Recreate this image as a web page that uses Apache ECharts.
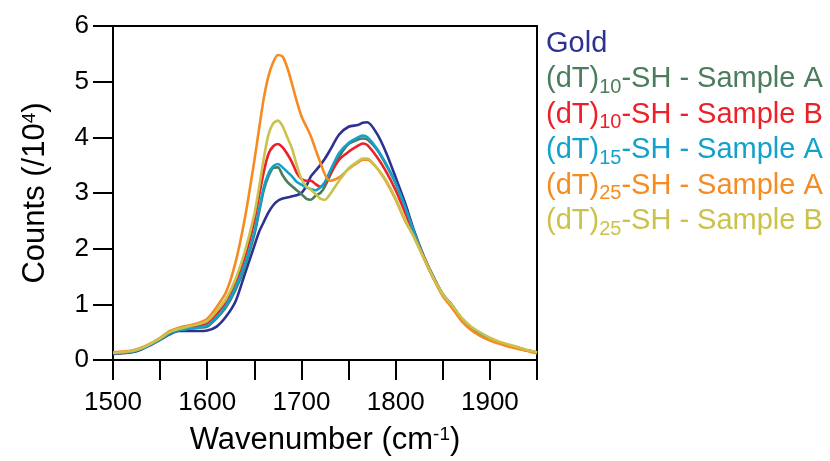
<!DOCTYPE html>
<html>
<head>
<meta charset="utf-8">
<script src="https://cdn.jsdelivr.net/npm/echarts@6/dist/echarts.min.js"></script>
<style>
  html, body { margin: 0; padding: 0; background: #fff; }
  #chart { width: 830px; height: 461px; }
</style>
</head>
<body>
<div id="chart"></div>
<script>
// Wavenumber sampling (cm^-1) shared by all spectra
const wavenumbers = [1500,1510,1520,1530,1540,1550,1560,1570,1580,1590,
  1600,1610,1620,1630,1640,1650,1655,1660,1665,1670,1675,1680,1685,1690,1695,
  1700,1705,1710,1715,1720,1725,1730,1740,1750,1760,1765,1770,1780,1790,
  1800,1810,1820,1830,1840,1850,1860,1870,1880,1890,1900,1910,1920,1930,1940,1950];

// Counts (/10^4)
const gold = [0.11,0.12,0.14,0.19,0.27,0.36,0.46,0.52,0.52,0.52,
  0.53,0.60,0.78,1.05,1.55,2.05,2.30,2.48,2.65,2.78,2.86,2.90,2.92,2.94,2.96,
  3.00,3.12,3.30,3.40,3.50,3.62,3.76,4.05,4.19,4.22,4.26,4.27,4.07,3.72,
  3.28,2.82,2.30,1.86,1.50,1.18,0.98,0.74,0.58,0.47,0.38,0.31,0.26,0.22,0.17,0.13];
const dT10A = [0.12,0.13,0.15,0.20,0.28,0.37,0.48,0.54,0.56,0.58,
  0.60,0.75,0.95,1.26,1.68,2.25,2.65,3.05,3.30,3.45,3.46,3.32,3.20,3.12,3.05,
  2.98,2.90,2.88,2.95,3.00,3.12,3.30,3.65,3.88,3.96,3.98,3.96,3.78,3.50,
  3.17,2.75,2.27,1.84,1.48,1.17,0.97,0.74,0.58,0.47,0.38,0.31,0.26,0.22,0.17,0.13];
const dT10B = [0.12,0.13,0.16,0.21,0.29,0.38,0.49,0.55,0.58,0.61,
  0.66,0.82,1.04,1.38,1.85,2.50,2.95,3.38,3.70,3.84,3.88,3.82,3.70,3.55,3.36,
  3.25,3.22,3.22,3.16,3.11,3.18,3.33,3.60,3.74,3.85,3.89,3.86,3.65,3.38,
  3.05,2.65,2.24,1.83,1.48,1.17,0.97,0.74,0.58,0.47,0.38,0.31,0.26,0.22,0.17,0.13];
const dT15A = [0.12,0.13,0.15,0.20,0.28,0.37,0.48,0.54,0.56,0.58,
  0.62,0.77,0.98,1.30,1.72,2.30,2.70,3.10,3.35,3.48,3.52,3.46,3.38,3.30,3.20,
  3.15,3.10,3.07,3.05,3.10,3.20,3.38,3.72,3.90,4.00,4.03,4.00,3.80,3.52,
  3.18,2.75,2.27,1.84,1.48,1.17,0.97,0.74,0.58,0.47,0.38,0.31,0.26,0.22,0.17,0.13];
const dT25A = [0.14,0.15,0.17,0.22,0.30,0.40,0.52,0.58,0.62,0.66,
  0.74,0.95,1.22,1.75,2.55,3.58,4.15,4.70,5.10,5.35,5.48,5.45,5.25,4.96,4.65,
  4.38,4.20,4.02,3.78,3.55,3.33,3.22,3.28,3.43,3.55,3.60,3.60,3.45,3.20,
  2.88,2.50,2.20,1.84,1.47,1.15,0.93,0.70,0.54,0.43,0.35,0.29,0.24,0.20,0.16,0.12];
const dT25B = [0.13,0.14,0.16,0.21,0.29,0.39,0.50,0.56,0.60,0.64,
  0.70,0.88,1.10,1.45,1.95,2.62,3.10,3.62,4.05,4.25,4.30,4.20,4.00,3.80,3.50,
  3.25,3.12,3.06,2.98,2.90,2.88,2.97,3.22,3.44,3.57,3.62,3.62,3.45,3.22,
  2.90,2.52,2.18,1.82,1.48,1.18,0.98,0.76,0.60,0.49,0.40,0.33,0.28,0.23,0.18,0.14];

const seriesNames = ['Gold', '(dT)10-SH - Sample A', '(dT)10-SH - Sample B',
  '(dT)15-SH - Sample A', '(dT)25-SH - Sample A', '(dT)25-SH - Sample B'];
const legendLabels = ['Gold', '(dT){sub|10}-SH - Sample A', '(dT){sub|10}-SH - Sample B',
  '(dT){sub|15}-SH - Sample A', '(dT){sub|25}-SH - Sample A', '(dT){sub|25}-SH - Sample B'];
const seriesValues = [gold, dT10A, dT10B, dT15A, dT25A, dT25B];
const colors = ['#2c3192', '#4b7c5b', '#ec2029', '#12a2c9', '#f68b22', '#cbc24c'];

const xTicks = { min: 1500, max: 1950, step: 50, labelStep: 100 };
const yTicks = { min: 0, max: 6, step: 1 };

const font = 'Liberation Sans, Arial, Helvetica, sans-serif';
const chart = echarts.init(document.getElementById('chart'), null, { renderer: 'canvas' });

const series = seriesNames.map((name, i) => ({
  name,
  type: 'line',
  data: wavenumbers.map((w, j) => [w, seriesValues[i][j]]),
  showSymbol: false,
  smooth: 0.25,
  lineStyle: { color: colors[i], width: 2.6 },
  itemStyle: { color: colors[i] },
  z: 2 + i
}));

chart.setOption({
  animation: false,
  backgroundColor: '#fff',
  grid: {
    left: 113, right: 293, top: 26, bottom: 101,
    show: true, borderColor: '#000', borderWidth: 2, backgroundColor: 'transparent'
  },
  legend: {
    orient: 'vertical',
    left: 536, top: 21,
    itemWidth: 0, itemHeight: 0, itemGap: 0,
    icon: 'none',
    selectedMode: false,
    data: seriesNames.map((n, i) => ({ name: n, textStyle: { color: colors[i] } })),
    formatter: name => legendLabels[seriesNames.indexOf(name)],
    textStyle: {
      fontFamily: font, fontSize: 29, lineHeight: 35.5,
      rich: { sub: { fontFamily: font, fontSize: 20, verticalAlign: 'bottom', lineHeight: 35.5 } }
    }
  },
  xAxis: {
    type: 'value',
    min: xTicks.min, max: xTicks.max, interval: xTicks.step,
    name: 'Wavenumber (cm{sup|-1})',
    nameLocation: 'middle', nameGap: 65,
    nameTextStyle: {
      fontFamily: font, fontSize: 31, color: '#000',
      rich: { sup: { fontFamily: font, fontSize: 19, verticalAlign: 'top', color: '#000' } }
    },
    axisLine: { lineStyle: { color: '#000', width: 2 } },
    axisTick: { inside: false, length: 20, lineStyle: { color: '#000', width: 2 } },
    axisLabel: {
      margin: 30, fontFamily: font, fontSize: 26, color: '#000',
      formatter: v => (v % xTicks.labelStep === 0 ? String(v) : '')
    },
    splitLine: { show: false }
  },
  yAxis: {
    type: 'value',
    min: yTicks.min, max: yTicks.max, interval: yTicks.step,
    name: 'Counts (/10{sup|4})',
    nameLocation: 'middle', nameGap: 62, nameRotate: 90,
    nameTextStyle: {
      fontFamily: font, fontSize: 31, color: '#000',
      rich: { sup: { fontFamily: font, fontSize: 19, verticalAlign: 'top', color: '#000' } }
    },
    axisLine: { lineStyle: { color: '#000', width: 2 } },
    axisTick: { inside: false, length: 20, lineStyle: { color: '#000', width: 2 } },
    axisLabel: { margin: 24, fontFamily: font, fontSize: 26, color: '#000' },
    splitLine: { show: false }
  },
  series
});
</script>
</body>
</html>
